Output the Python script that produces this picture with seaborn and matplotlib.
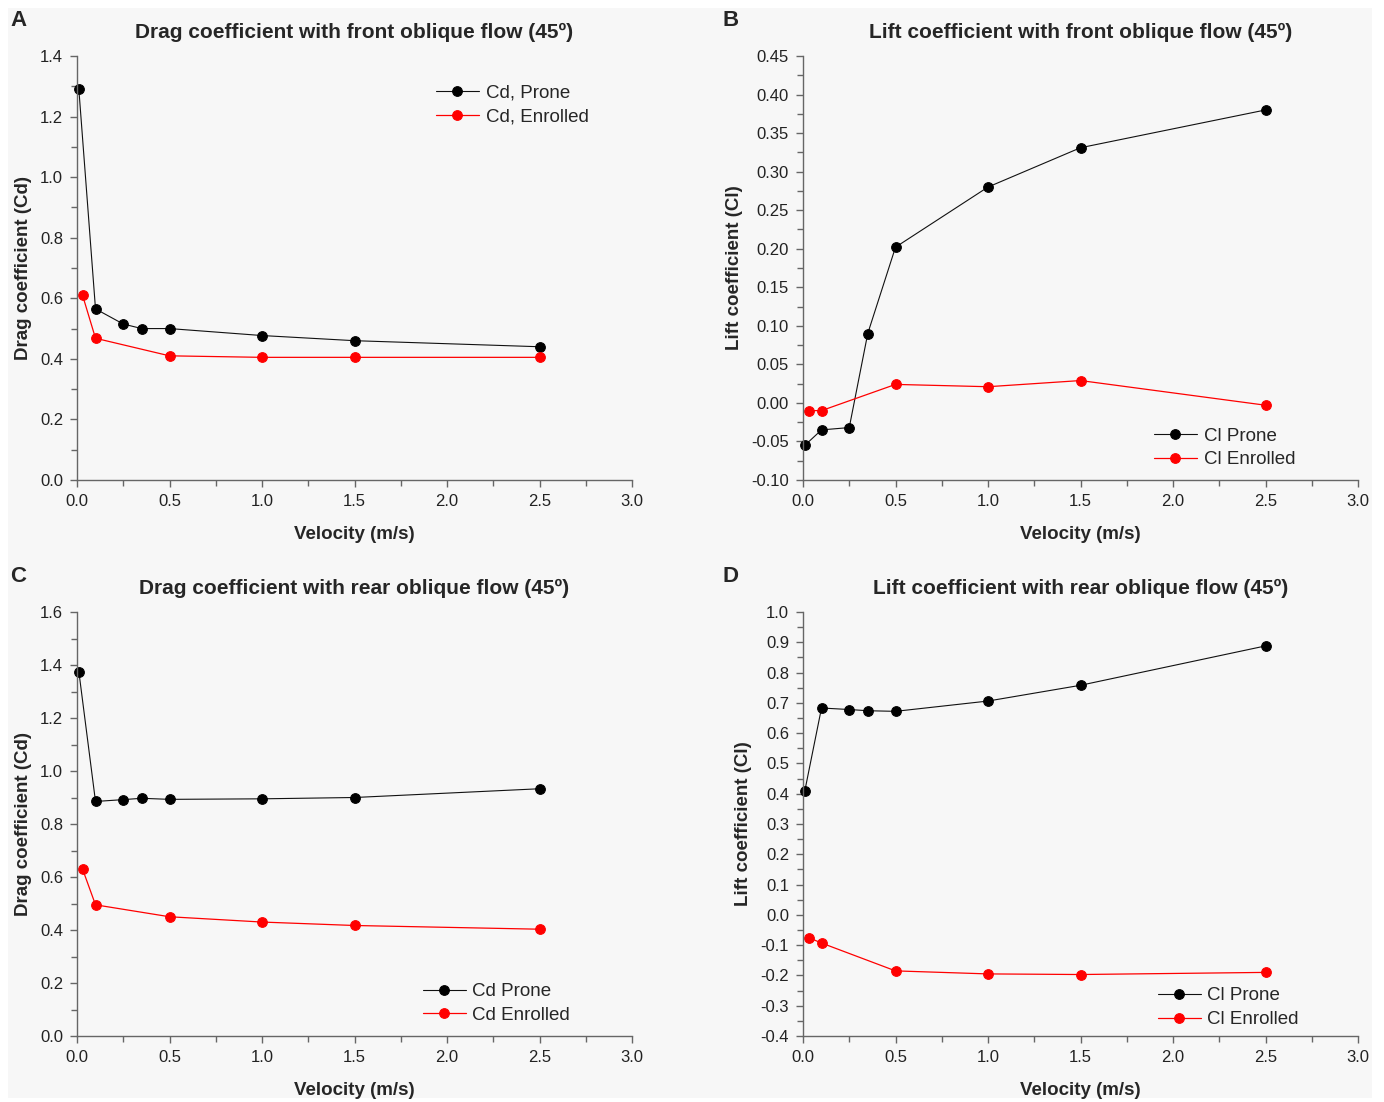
import numpy as np
import pandas as pd
import matplotlib
matplotlib.use("Agg")
import matplotlib.pyplot as plt
from matplotlib.patches import Rectangle
from matplotlib.ticker import MultipleLocator, FormatStrFormatter
import seaborn as sns

# velocities (m/s)
x_prone = [0.01, 0.1, 0.25, 0.35, 0.5, 1.0, 1.5, 2.5]
x_enrolled = [0.03, 0.1, 0.5, 1.0, 1.5, 2.5]

# A - drag, front oblique flow
cd_front_prone = [1.29, 0.565, 0.515, 0.50, 0.50, 0.477, 0.46, 0.44]
cd_front_enrolled = [0.61, 0.468, 0.41, 0.405, 0.405, 0.405]
# B - lift, front oblique flow
cl_front_prone = [-0.055, -0.035, -0.032, 0.09, 0.202, 0.28, 0.331, 0.38]
cl_front_enrolled = [-0.01, -0.01, 0.024, 0.021, 0.029, -0.003]
# C - drag, rear oblique flow
cd_rear_prone = [1.375, 0.885, 0.892, 0.897, 0.893, 0.895, 0.90, 0.933]
cd_rear_enrolled = [0.63, 0.495, 0.45, 0.43, 0.417, 0.403]
# D - lift, rear oblique flow
cl_rear_prone = [0.41, 0.683, 0.678, 0.674, 0.672, 0.706, 0.758, 0.888]
cl_rear_enrolled = [-0.075, -0.093, -0.185, -0.195, -0.197, -0.19]

titles = ["Drag coefficient with front oblique flow (45º)",
          "Lift coefficient with front oblique flow (45º)",
          "Drag coefficient with rear oblique flow (45º)",
          "Lift coefficient with rear oblique flow (45º)"]
ylabels = ["Drag coefficient (Cd)", "Lift coefficient (Cl)",
           "Drag coefficient (Cd)", "Lift coefficient (Cl)"]
legend_names = [("Cd, Prone", "Cd, Enrolled"), ("Cl Prone", "Cl Enrolled"),
                ("Cd Prone", "Cd Enrolled"), ("Cl Prone", "Cl Enrolled")]
letters = ["A", "B", "C", "D"]

sns.set_style("ticks")
plt.rcParams['font.family'] = ['Liberation Sans', 'DejaVu Sans']
plt.rcParams['axes.unicode_minus'] = False

fig = plt.figure(figsize=(13.84, 11.02), dpi=100, facecolor="white")
fig.patches.append(Rectangle((8 / 1384, 4 / 1102), 1364 / 1384, 1090 / 1102,
                             transform=fig.transFigure, facecolor="#f7f7f7",
                             edgecolor="none", zorder=-10))

W, H = 1384, 1102
ax_left = [77, 803, 77, 803]
ax_top = [56, 56, 612, 612]
ax_w, ax_h = 555, 424

panels = [
    (cd_front_prone, cd_front_enrolled, (0, 1.4), 0.2, "%.1f", (0.935, 0.95), "upper right"),
    (cl_front_prone, cl_front_enrolled, (-0.10, 0.45), 0.05, "%.2f", (0.9, 0.01), "lower right"),
    (cd_rear_prone, cd_rear_enrolled, (0, 1.6), 0.2, "%.1f", (0.902, 0.011), "lower right"),
    (cl_rear_prone, cl_rear_enrolled, (-0.4, 1.0), 0.1, "%.1f", (0.907, 0.001), "lower right"),
]

spine_col = "#666666"
for i, (prone, enrolled, ylim, ystep, fmt, lpos, lloc) in enumerate(panels):
    ax = fig.add_axes([ax_left[i] / W, 1 - (ax_top[i] + ax_h) / H, ax_w / W, ax_h / H])
    ax.set_facecolor("none")
    sns.lineplot(x=x_prone, y=prone, ax=ax, color="#111111", lw=0.8,
                 marker="o", markersize=7, markeredgecolor="black",
                 markerfacecolor="black", label=legend_names[i][0], clip_on=False)
    sns.lineplot(x=x_enrolled, y=enrolled, ax=ax, color="#ff0000", lw=0.9,
                 marker="o", markersize=7, markeredgecolor="#ff0000",
                 markerfacecolor="#ff0000", label=legend_names[i][1], clip_on=False)

    ax.set_xlim(0, 3.0)
    ax.set_ylim(*ylim)
    ax.xaxis.set_major_locator(MultipleLocator(0.5))
    ax.xaxis.set_minor_locator(MultipleLocator(0.25))
    ax.xaxis.set_major_formatter(FormatStrFormatter("%.1f"))
    ax.yaxis.set_major_locator(MultipleLocator(ystep))
    ax.yaxis.set_minor_locator(MultipleLocator(ystep / 2))
    ax.yaxis.set_major_formatter(FormatStrFormatter(fmt))

    sns.despine(ax=ax)
    for s in ["left", "bottom"]:
        ax.spines[s].set_color(spine_col)
        ax.spines[s].set_linewidth(1.0)
    ax.tick_params(which="major", direction="out", length=5, width=1,
                   color=spine_col, labelsize=12, labelcolor="#222222", pad=5)
    ax.tick_params(which="minor", direction="out", length=4, width=1, color=spine_col)

    ax.set_xlabel("Velocity (m/s)", fontsize=13.5, fontweight="bold", labelpad=12)
    ax.set_ylabel(ylabels[i], fontsize=13.5, fontweight="bold", labelpad=6)
    ax.set_title(titles[i], fontsize=15, fontweight="bold", pad=13)

    leg = ax.legend(loc=lloc, bbox_to_anchor=lpos, frameon=False, fontsize=13.5,
                    handlelength=2.3, handletextpad=0.35, labelspacing=0.35,
                    borderaxespad=0)

    lx = 10 if i % 2 == 0 else 722
    ly = 20 if i < 2 else 576
    fig.text(lx / W, 1 - ly / H, letters[i], fontsize=16, fontweight="bold",
             va="center", ha="left")

fig.savefig("out.png", dpi=100, facecolor=fig.get_facecolor())
